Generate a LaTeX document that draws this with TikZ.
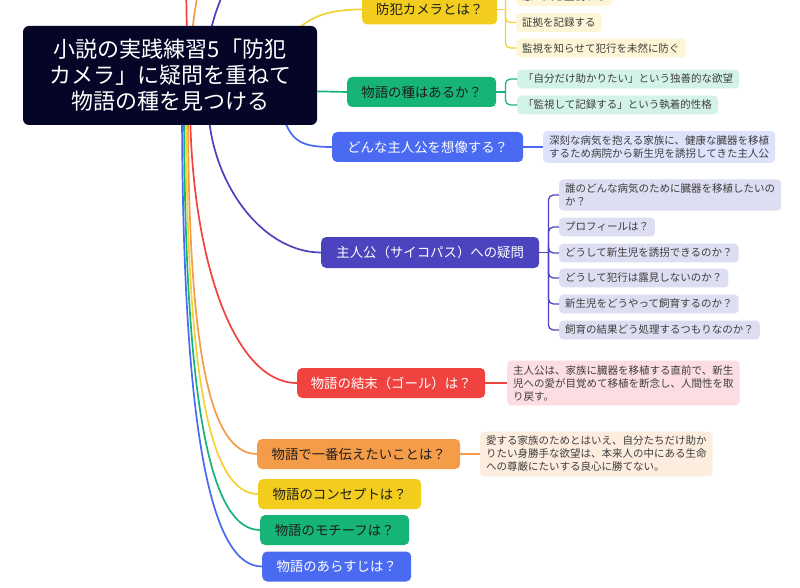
\documentclass[tikz,border=0pt]{standalone}
\usepackage{fontspec}
\newfontfamily\jp{Noto Sans CJK JP}
\usetikzlibrary{calc,backgrounds}
\definecolor{rootc}{RGB}{5,5,40}
\definecolor{cyel}{RGB}{243,205,30}
\definecolor{cgrn}{RGB}{22,180,118}
\definecolor{cblu}{RGB}{74,106,242}
\definecolor{cind}{RGB}{76,68,190}
\definecolor{cred}{RGB}{240,66,62}
\definecolor{cora}{RGB}{245,156,72}
\definecolor{lyel}{RGB}{253,245,214}
\definecolor{lgrn}{RGB}{212,243,232}
\definecolor{lblu}{RGB}{221,227,251}
\definecolor{lind}{RGB}{222,222,242}
\definecolor{lred}{RGB}{252,222,226}
\definecolor{lora}{RGB}{253,237,222}
\definecolor{ltxt}{RGB}{62,62,62}
\definecolor{dtxt}{RGB}{30,30,30}
\tikzset{
  rootbox/.style={fill=rootc, rounded corners=6pt, text=white,
    font=\jp\fontsize{22}{26}\selectfont, align=center,
    minimum width=294pt, minimum height=99pt, inner sep=0pt},
  br/.style={rounded corners=5pt, font=\jp\fontsize{13.4}{16}\selectfont,
    minimum height=30pt, inner xsep=0pt, anchor=west},
  leaf/.style={rounded corners=4pt, font=\jp\fontsize{10.5}{13}\selectfont,
    align=left, inner xsep=6pt, inner ysep=4.5pt, anchor=west, text=ltxt},
  conn/.style={line width=1.7pt},
  sub/.style={line width=1.3pt, rounded corners=5pt},
}
\begin{document}
\begin{tikzpicture}[x=1pt,y=-1pt]
\useasboundingbox (0,0) rectangle (800,588);
\clip (0,0) rectangle (800,588);

% hidden start points inside root
\coordinate (sy1) at (295,32);
\coordinate (sg2) at (300,91);
\coordinate (sb3) at (282,112);
\coordinate (si4) at (208,100);
\coordinate (sr5) at (190,100);
\coordinate (so6) at (188,100);
\coordinate (sy7) at (186,100);
\coordinate (sg8) at (184,100);
\coordinate (sb9) at (182,100);
\coordinate (tr0) at (187,60);
\coordinate (to0) at (191,60);
\coordinate (ti0) at (208,60);
\coordinate (tr1) at (186,-30);
\coordinate (to1) at (201,-30);
\coordinate (ti1) at (232,-30);

% root
\node[rootbox] (root) at (170,75.5) {小説の実践練習5「防犯\\カメラ」に疑問を重ねて\\物語の種を見つける};

% branch nodes
\node[br, fill=cyel, text=dtxt, minimum width=135pt] (n1) at (362,9.5) {防犯カメラとは？};
\node[br, fill=cgrn, text=dtxt, minimum width=149pt] (n2) at (347,92) {物語の種はあるか？};
\node[br, fill=cblu, text=white, minimum width=191pt] (n3) at (332,147) {どんな主人公を想像する？};
\node[br, fill=cind, text=white, minimum width=218pt, minimum height=31pt] (n4) at (321,252.5) {主人公（サイコパス）への疑問};
\node[br, fill=cred, text=white, minimum width=188pt] (n5) at (297,383) {物語の結末（ゴール）は？};
\node[br, fill=cora, text=dtxt, minimum width=203pt] (n6) at (257,454) {物語で一番伝えたいことは？};
\node[br, fill=cyel, text=dtxt, minimum width=163pt] (n7) at (258,494) {物語のコンセプトは？};
\node[br, fill=cgrn, text=dtxt, minimum width=149pt] (n8) at (260,530) {物語のモチーフは？};
\node[br, fill=cblu, text=white, minimum width=149pt] (n9) at (262,566.5) {物語のあらすじは？};

% leaves
\node[leaf, fill=lyel] (l11) at (516,-3.5) {悪い人を監視する};
\node[leaf, fill=lyel] (l12) at (516,22.5) {証拠を記録する};
\node[leaf, fill=lyel] (l13) at (516,48) {監視を知らせて犯行を未然に防ぐ};
\node[leaf, fill=lgrn] (l21) at (517,79) {「自分だけ助かりたい」という独善的な欲望};
\node[leaf, fill=lgrn] (l22) at (517,105) {「監視して記録する」という執着的性格};
\node[leaf, fill=lblu] (l31) at (543,147) {深刻な病気を抱える家族に、健康な臓器を移植\\するため病院から新生児を誘拐してきた主人公};
\node[leaf, fill=lind] (l41) at (559,195) {誰のどんな病気のために臓器を移植したいの\\か？};
\node[leaf, fill=lind] (l42) at (559,227) {プロフィールは？};
\node[leaf, fill=lind] (l43) at (559,253) {どうして新生児を誘拐できるのか？};
\node[leaf, fill=lind] (l44) at (559,278) {どうして犯行は露見しないのか？};
\node[leaf, fill=lind] (l45) at (559,304) {新生児をどうやって飼育するのか？};
\node[leaf, fill=lind] (l46) at (559,330) {飼育の結果どう処理するつもりなのか？};
\node[leaf, fill=lred] (l51) at (507,383) {主人公は、家族に臓器を移植する直前で、新生\\児への愛が目覚めて移植を断念し、人間性を取\\り戻す。};
\node[leaf, fill=lora] (l61) at (480,454) {愛する家族のためとはいえ、自分たちだけ助か\\りたい身勝手な欲望は、本来人の中にある生命\\への尊厳にたいする良心に勝てない。};

\begin{pgfonlayer}{background}
\fill[white] (0,0) rectangle (800,588);
% main connectors
\draw[conn, cyel!90!white] (sy1) .. controls +(15,-15) and +(-35,0) .. (n1.west);
\draw[conn, cgrn] (sg2) -- (n2.west);
\draw[conn, cblu] (sb3) .. controls +(8,30) and +(-30,0) .. (n3.west);
\draw[conn, cind] (si4) .. controls +(0,80) and +(-60,0) .. (n4.west);
\draw[conn, cred] (sr5) .. controls +(0,150) and +(-66,0) .. (n5.west);
\draw[conn, cora] (so6) .. controls +(0,240) and +(-50,0) .. (n6.west);
\draw[conn, cyel!90!white] (sy7) .. controls +(0,280) and +(-48,0) .. (n7.west);
\draw[conn, cgrn] (sg8) .. controls +(0,315) and +(-48,0) .. (n8.west);
\draw[conn, cblu] (sb9) .. controls +(0,350) and +(-48,0) .. (n9.west);
\draw[conn, cred] (tr0) .. controls +(0,-40) and +(0,30) .. (tr1);
\draw[conn, cora] (to0) .. controls +(0,-40) and +(-3,30) .. (to1);
\draw[conn, cind] (ti0) .. controls +(0,-40) and +(-10,30) .. (ti1);
\end{pgfonlayer}

% sub connectors
\coordinate (b1) at ($(n1.east)+(8,0)$);
\coordinate (b2) at ($(n2.east)+(9,0)$);
\coordinate (b4) at ($(n4.east)+(9,0)$);
\draw[sub, cyel!90!white] (n1.east) -- (b1);
\foreach \c in {l11,l12,l13} \draw[sub, cyel!90!white] (b1) |- (\c.west);
\draw[sub, cgrn] (n2.east) -- (b2);
\foreach \c in {l21,l22} \draw[sub, cgrn] (b2) |- (\c.west);
\draw[sub, cblu] (n3.east) -- (l31.west);
\draw[sub, cind] (n4.east) -- (b4);
\foreach \c in {l41,l42,l43,l44,l45,l46} \draw[sub, cind] (b4) |- (\c.west);
\draw[sub, cred] (n5.east) -- (l51.west);
\draw[sub, cora] (n6.east) -- (l61.west);
\end{tikzpicture}
\end{document}
